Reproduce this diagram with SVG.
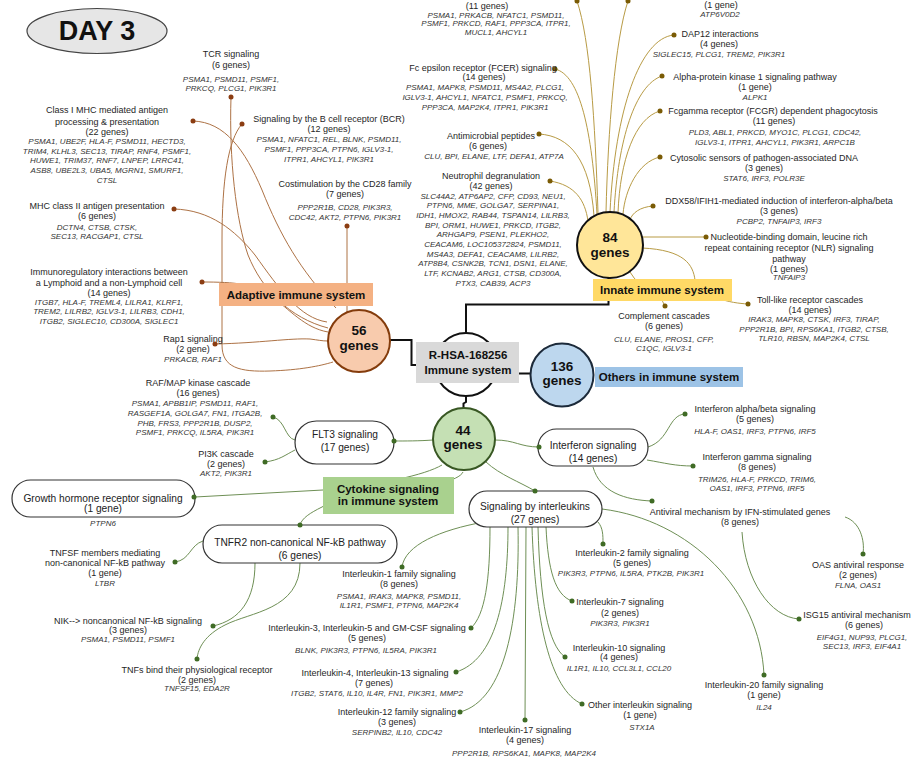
<svg xmlns="http://www.w3.org/2000/svg" width="914" height="760" viewBox="0 0 914 760">
<style>
text{font-family:"Liberation Sans",Arial,sans-serif;text-anchor:middle}
.t{font-size:9px;fill:#262626}
.g{font-size:8px;font-style:italic;fill:#333}
.p{font-size:10.2px;fill:#222}
.bl{font-size:11.5px;font-weight:bold;fill:#111}
.num{font-size:13.5px;font-weight:bold;fill:#111}
.ca{fill:none;stroke:#ad7245;stroke-width:1}
.ci{fill:none;stroke:#b89b45;stroke-width:1}
.cc{fill:none;stroke:#6e8f55;stroke-width:1}
.k{fill:none;stroke:#111;stroke-width:2}
.da{fill:#8b3d12}.di{fill:#7a5b05}.dc{fill:#3f6b25}
.pill{fill:#fff;stroke:#333;stroke-width:1.2}
</style>
<rect width="914" height="760" fill="#fff"/>
<g id="title">
<ellipse cx="97" cy="31" rx="70" ry="22.5" fill="#e6e6e6" stroke="#444" stroke-width="1.2"/>
<text x="97" y="40" style="font-size:27px;font-weight:bold;fill:#111">DAY 3</text>
</g>
<g id="connectors">
<path class="k" d="M390,340 H411.5 V365 H416"/>
<path class="k" d="M519,373.5 H531"/>
<path class="k" d="M466,333 V304.5 H608.5 V277"/>
<path class="k" d="M466,396 V402 L463.5,403.5 V409"/>
<path class="ca" d="M231,97 C229,160 236,220 248,255 C262,290 290,318 328,328"/>
<path class="ca" d="M242,124 C228,140 222,180 222,240 L222,345 C222,368 240,372 270,371 C300,370 320,366 333,362"/>
<path class="ca" d="M193,121 C225,122 245,150 262,190 C280,235 300,270 336,308"/>
<path class="ca" d="M174,209 C210,210 235,230 255,255 C280,290 300,318 327,322"/>
<path class="ca" d="M202,282 C235,282 255,284 270,295 C290,310 305,328 328,332"/>
<path class="ca" d="M215,344 C260,343 290,338 310,339 C318,340 322,341 328,341"/>
<path class="ca" d="M347,226 L347,312"/>
<path class="ci" d="M577,1 C590,40 595,120 598,213"/>
<path class="ci" d="M555,69 C580,75 592,130 597,214"/>
<path class="ci" d="M539,134 C570,136 590,160 594,216"/>
<path class="ci" d="M550,181 C575,185 585,200 588,221"/>
<path class="ci" d="M628,1 C615,40 608,130 606,212"/>
<path class="ci" d="M674,35 C640,38 615,110 610,212"/>
<path class="ci" d="M662,76 C635,85 618,140 614,212"/>
<path class="ci" d="M660,111 C635,118 620,160 618,213"/>
<path class="ci" d="M660,157 C638,162 625,190 623,214"/>
<path class="ci" d="M653,206 C640,207 632,213 630,220"/>
<path class="ci" d="M642,237 L706,237"/>
<path class="ci" d="M642,248 C685,250 693,265 695,280 C705,298 730,303 748,304"/>
<path class="ci" d="M630,272 C640,290 660,292 665,306"/>
<path class="cc" d="M433,440 C420,441 405,441 394,441"/>
<path class="cc" d="M295,440 C285,438 285,420 273,417"/>
<path class="cc" d="M295,450 C285,455 280,460 265,462"/>
<path class="cc" d="M495,440 C515,440 520,447 539,447"/>
<path class="cc" d="M648,447 C670,440 668,415 685,414"/>
<path class="cc" d="M647,460 C665,463 675,466 693,466"/>
<path class="cc" d="M593,467 C600,492 625,500 652,501"/>
<path class="cc" d="M486,462 C500,475 520,482 535,491"/>
<path class="cc" d="M442,465 C425,475 380,485 323,490 L195,497"/>
<path class="cc" d="M463,472 C455,490 340,495 322,507 C310,513 302,518 300,525"/>
<path class="cc" d="M203,541 C190,545 190,560 175,562"/>
<path class="cc" d="M255,563 C255,600 240,620 213,626"/>
<path class="cc" d="M300,563 C300,610 250,612 225,625 C205,635 198,648 197,659"/>
<path class="cc" d="M484,522 C440,530 405,545 402,567"/>
<path class="cc" d="M490,527 C490,580 485,615 471,628"/>
<path class="cc" d="M508,527 C508,600 495,660 456,672"/>
<path class="cc" d="M518,527 C520,620 505,700 460,712"/>
<path class="cc" d="M526,527 L525,720"/>
<path class="cc" d="M532,527 C535,620 550,690 582,704"/>
<path class="cc" d="M538,527 C540,600 548,645 565,657"/>
<path class="cc" d="M546,527 C548,570 555,595 572,601"/>
<path class="cc" d="M598,522 C603,528 603,535 603,544"/>
<path class="cc" d="M602,509 C690,520 760,590 764,675"/>
<path class="cc" d="M845,517 C860,522 865,540 863,554"/>
<path class="cc" d="M742,532 C745,580 770,617 799,619"/>
</g>
<g id="hub">
<circle cx="466" cy="364.5" r="31.5" fill="#fff" stroke="#111" stroke-width="2"/>
<rect x="416" y="342" width="103" height="41" fill="#d9d9d9"/>
<text class="bl" x="468" y="359">R-HSA-168256</text>
<text class="bl" x="468" y="373.5">Immune system</text>
</g>
<g id="adaptive-hub">
<circle cx="359" cy="341" r="31" fill="#f8cbad" stroke="#843c0c" stroke-width="2"/>
<text class="num" x="359" y="335">56</text>
<text class="num" x="359" y="350">genes</text>
</g>
<g id="adaptive-label">
<rect x="219" y="283" width="154" height="23" fill="#f4b183"/>
<text class="bl" x="296" y="298.5">Adaptive immune system</text>
</g>
<g id="innate-hub">
<circle cx="610" cy="245" r="33" fill="#ffe699" stroke="#111" stroke-width="2"/>
<text class="num" x="610" y="242">84</text>
<text class="num" x="610" y="257">genes</text>
</g>
<g id="innate-label">
<rect x="593" y="279" width="139" height="22" fill="#ffd966"/>
<text class="bl" x="662" y="293.5">Innate immune system</text>
</g>
<g id="others-hub">
<circle cx="562" cy="375" r="31.5" fill="#bdd7ee" stroke="#1c2a3a" stroke-width="2"/>
<text class="num" x="562" y="371">136</text>
<text class="num" x="562" y="385">genes</text>
</g>
<g id="others-label">
<rect x="595" y="367" width="148" height="20" fill="#9dc3e6"/>
<text class="bl" x="669" y="381">Others in immune system</text>
</g>
<g id="cytokine-hub">
<circle cx="464" cy="439" r="31" fill="#c5e0b4" stroke="#385723" stroke-width="2"/>
<text class="num" x="463" y="435">44</text>
<text class="num" x="463" y="449">genes</text>
</g>
<g id="cytokine-label">
<rect x="323" y="477" width="131" height="37" fill="#a9d18e"/>
<text class="bl" x="388" y="493">Cytokine signaling</text>
<text class="bl" x="388" y="505">in immune system</text>
</g>
<g id="tcr"><circle class="da" cx="231" cy="97" r="2.5"/>
<text class="t" x="231" y="57">TCR signaling</text><text class="t" x="231" y="68">(6 genes)</text>
<text class="g" x="231" y="81.5">PSMA1, PSMD11, PSMF1,</text><text class="g" x="231" y="91">PRKCQ, PLCG1, PIK3R1</text></g>
<g id="mhc1"><circle class="da" cx="193" cy="121" r="2.5"/>
<text class="t" x="107" y="113">Class I MHC mediated antigen</text><text class="t" x="107" y="124.5">processing &amp; presentation</text><text class="t" x="107" y="135">(22 genes)</text>
<text class="g" x="107" y="144">PSMA1, UBE2F, HLA-F, PSMD11, HECTD3,</text><text class="g" x="107" y="153.7">TRIM4, KLHL3, SEC13, TIRAP, RNF4, PSMF1,</text><text class="g" x="107" y="163.4">HUWE1, TRIM37, RNF7, LNPEP, LRRC41,</text><text class="g" x="107" y="173.1">ASB8, UBE2L3, UBA5, MGRN1, SMURF1,</text><text class="g" x="107" y="182.8">CTSL</text></g>
<g id="mhc2"><circle class="da" cx="174" cy="209" r="2.5"/>
<text class="t" x="97" y="209">MHC class II antigen presentation</text><text class="t" x="97" y="219">(6 genes)</text>
<text class="g" x="97" y="229.5">DCTN4, CTSB, CTSK,</text><text class="g" x="97" y="239">SEC13, RACGAP1, CTSL</text></g>
<g id="immunoreg"><circle class="da" cx="202" cy="282" r="2.5"/>
<text class="t" x="109" y="275">Immunoregulatory interactions between</text><text class="t" x="109" y="285.5">a Lymphoid and a non-Lymphoid cell</text><text class="t" x="109" y="295.5">(14 genes)</text>
<text class="g" x="109" y="304.5">ITGB7, HLA-F, TREML4, LILRA1, KLRF1,</text><text class="g" x="109" y="314.3">TREM2, LILRB2, IGLV3-1, LILRB3, CDH1,</text><text class="g" x="109" y="324">ITGB2, SIGLEC10, CD300A, SIGLEC1</text></g>
<g id="rap1"><text class="t" x="193" y="342">Rap1 signaling</text><text class="t" x="193" y="352">(2 gene)</text>
<text class="g" x="193" y="362">PRKACB, RAF1</text><circle class="da" cx="215" cy="344" r="2.5"/></g>
<g id="bcr"><circle class="da" cx="242" cy="124" r="2.5"/>
<text class="t" x="329" y="122">Signaling by the B cell receptor (BCR)</text><text class="t" x="329" y="132">(12 genes)</text>
<text class="g" x="329" y="142">PSMA1, NFATC1, REL, BLNK, PSMD11,</text><text class="g" x="329" y="151.7">PSMF1, PPP3CA, PTPN6, IGLV3-1,</text><text class="g" x="329" y="161.5">ITPR1, AHCYL1, PIK3R1</text></g>
<g id="cd28"><circle class="da" cx="347" cy="226" r="2.5"/>
<text class="t" x="345" y="187">Costimulation by the CD28 family</text><text class="t" x="345" y="197.3">(7 genes)</text>
<text class="g" x="345" y="210">PPP2R1B, CD28, PIK3R3,</text><text class="g" x="345" y="219.5">CDC42, AKT2, PTPN6, PIK3R1</text></g>
<g id="top11"><circle class="di" cx="577" cy="1" r="2.5"/>
<text class="t" x="487" y="8.5">(11 genes)</text>
<text class="g" x="496" y="17.5">PSMA1, PRKACB, NFATC1, PSMD11,</text><text class="g" x="496" y="26.3">PSMF1, PRKCD, RAF1, PPP3CA, ITPR1,</text><text class="g" x="496" y="35">MUCL1, AHCYL1</text></g>
<g id="fcer"><circle class="di" cx="555" cy="69" r="2.5"/>
<text class="t" x="483" y="70.7">Fc epsilon receptor (FCER) signaling</text><text class="t" x="484" y="80.3">(14 genes)</text>
<text class="g" x="485" y="90">PSMA1, MAPK8, PSMD11, MS4A2, PLCG1,</text><text class="g" x="485" y="99.8">IGLV3-1, AHCYL1, NFATC1, PSMF1, PRKCQ,</text><text class="g" x="485" y="109.6">PPP3CA, MAP2K4, ITPR1, PIK3R1</text></g>
<g id="antimicrobial"><circle class="di" cx="539" cy="134" r="2.5"/>
<text class="t" x="491" y="138.7">Antimicrobial peptides</text><text class="t" x="488" y="148.7">(6 genes)</text>
<text class="g" x="494" y="158.5">CLU, BPI, ELANE, LTF, DEFA1, ATP7A</text></g>
<g id="neutrophil"><circle class="di" cx="550" cy="181" r="2.5"/>
<text class="t" x="491" y="178.7">Neutrophil degranulation</text><text class="t" x="491" y="188.7">(42 genes)</text>
<text class="g" x="493" y="198.5">SLC44A2, ATP6AP2, CFP, CD93, NEU1,</text>
<text class="g" x="493" y="208.2">PTPN6, MME, GOLGA7, SERPINA1,</text>
<text class="g" x="493" y="217.9">IDH1, HMOX2, RAB44, TSPAN14, LILRB3,</text>
<text class="g" x="493" y="227.5">BPI, ORM1, HUWE1, PRKCD, ITGB2,</text>
<text class="g" x="493" y="237.2">ARHGAP9, PSEN1, PLEKHO2,</text>
<text class="g" x="493" y="246.9">CEACAM6, LOC105372824, PSMD11,</text>
<text class="g" x="493" y="256.6">MS4A3, DEFA1, CEACAM8, LILRB2,</text>
<text class="g" x="493" y="266.3">ATP8B4, CSNK2B, TCN1, DSN1, ELANE,</text>
<text class="g" x="493" y="275.9">LTF, KCNAB2, ARG1, CTSB, CD300A,</text>
<text class="g" x="493" y="285.6">PTX3, CAB39, ACP3</text></g>
<g id="top1"><circle class="di" cx="628" cy="1" r="2.5"/>
<text class="t" x="721" y="8">(1 gene)</text><text class="g" x="720" y="16.5">ATP6V0D2</text></g>
<g id="dap12"><circle class="di" cx="674" cy="35" r="2.5"/>
<text class="t" x="720" y="37.3">DAP12 interactions</text><text class="t" x="719" y="47.3">(4 genes)</text>
<text class="g" x="719" y="57">SIGLEC15, PLCG1, TREM2, PIK3R1</text></g>
<g id="alpk"><circle class="di" cx="662" cy="76" r="2.5"/>
<text class="t" x="755" y="80.3">Alpha-protein kinase 1 signaling pathway</text><text class="t" x="755" y="90.3">(1 gene)</text>
<text class="g" x="755" y="100">ALPK1</text></g>
<g id="fcgr"><circle class="di" cx="660" cy="111" r="2.5"/>
<text class="t" x="773" y="114">Fcgamma receptor (FCGR) dependent phagocytosis</text><text class="t" x="774" y="123.7">(11 genes)</text>
<text class="g" x="775" y="134.8">PLD3, ABL1, PRKCD, MYO1C, PLCG1, CDC42,</text><text class="g" x="775" y="144.5">IGLV3-1, ITPR1, AHCYL1, PIK3R1, ARPC1B</text></g>
<g id="cytosolic"><circle class="di" cx="660" cy="157" r="2.5"/>
<text class="t" x="764" y="161.3">Cytosolic sensors of pathogen-associated DNA</text><text class="t" x="764" y="171.3">(3 genes)</text>
<text class="g" x="764" y="181">STAT6, IRF3, POLR3E</text></g>
<g id="ddx58"><circle class="di" cx="653" cy="206" r="2.5"/>
<text class="t" x="779" y="204">DDX58/IFIH1-mediated induction of interferon-alpha/beta</text><text class="t" x="779" y="214">(3 genes)</text>
<text class="g" x="779" y="223.8">PCBP2, TNFAIP3, IRF3</text></g>
<g id="nlr"><circle class="di" cx="706" cy="237" r="2.5"/>
<text class="t" x="789" y="240.3">Nucleotide-binding domain, leucine rich</text><text class="t" x="789" y="251.3">repeat containing receptor (NLR) signaling</text><text class="t" x="789" y="262.3">pathway</text><text class="t" x="789" y="272">(1 genes)</text>
<text class="g" x="789" y="279.5">TNFAIP3</text></g>
<g id="tlr"><circle class="di" cx="748" cy="304" r="2.5"/>
<text class="t" x="810" y="303">Toll-like receptor cascades</text><text class="t" x="810" y="313">(14 genes)</text>
<text class="g" x="814" y="321.8">IRAK3, MAPK8, CTSK, IRF3, TIRAP,</text><text class="g" x="814" y="331.6">PPP2R1B, BPI, RPS6KA1, ITGB2, CTSB,</text><text class="g" x="814" y="341">TLR10, RBSN, MAP2K4, CTSL</text></g>
<g id="complement"><circle class="di" cx="665" cy="306" r="2.5"/>
<text class="t" x="664" y="319">Complement cascades</text><text class="t" x="664" y="329">(6 genes)</text>
<text class="g" x="664" y="341.8">CLU, ELANE, PROS1, CFP,</text><text class="g" x="664" y="351">C1QC, IGLV3-1</text></g>
<g id="flt3"><rect class="pill" x="295" y="421" width="99" height="43" rx="21.5"/>
<text class="p" x="345" y="438">FLT3 signaling</text><text class="p" x="345" y="451">(17 genes)</text><circle class="dc" cx="394" cy="441" r="2.5"/></g>
<g id="rafmap"><circle class="dc" cx="273" cy="417" r="2.5"/>
<text class="t" x="198" y="385.7">RAF/MAP kinase cascade</text><text class="t" x="198" y="395.7">(16 genes)</text>
<text class="g" x="195" y="406.1">PSMA1, APBB1IP, PSMD11, RAF1,</text><text class="g" x="195" y="415.9">RASGEF1A, GOLGA7, FN1, ITGA2B,</text><text class="g" x="195" y="425.5">PHB, FRS3, PPP2R1B, DUSP2,</text><text class="g" x="195" y="435.1">PSMF1, PRKCQ, IL5RA, PIK3R1</text></g>
<g id="pi3k"><circle class="dc" cx="265" cy="462" r="2.5"/>
<text class="t" x="226" y="457">PI3K cascade</text><text class="t" x="226" y="467">(2 genes)</text>
<text class="g" x="226" y="476.1">AKT2, PIK3R1</text></g>
<g id="interferon"><rect class="pill" x="538" y="429" width="110" height="37" rx="18.5"/>
<text class="p" x="593" y="448.6">Interferon signaling</text><text class="p" x="593" y="462">(14 genes)</text><circle class="dc" cx="539" cy="447" r="2.5"/></g>
<g id="ifnab"><circle class="dc" cx="685" cy="414" r="2.5"/>
<text class="t" x="755" y="412">Interferon alpha/beta signaling</text><text class="t" x="755" y="422">(5 genes)</text>
<text class="g" x="755" y="433.8">HLA-F, OAS1, IRF3, PTPN6, IRF5</text></g>
<g id="ifng"><circle class="dc" cx="693" cy="466" r="2.5"/>
<text class="t" x="757" y="460.3">Interferon gamma signaling</text><text class="t" x="757" y="470.3">(8 genes)</text>
<text class="g" x="757" y="481.8">TRIM26, HLA-F, PRKCD, TRIM6,</text><text class="g" x="757" y="491.1">OAS1, IRF3, PTPN6, IRF5</text></g>
<g id="antiviral"><circle class="dc" cx="652" cy="501" r="2.5"/>
<text class="t" x="740" y="515.3">Antiviral mechanism by IFN-stimulated genes</text><text class="t" x="740" y="525.3">(8 genes)</text></g>
<g id="oas"><circle class="dc" cx="863" cy="554" r="2.5"/>
<text class="t" x="858" y="568">OAS antiviral response</text><text class="t" x="858" y="578">(2 genes)</text>
<text class="g" x="858" y="587.8">FLNA, OAS1</text></g>
<g id="isg15"><circle class="dc" cx="799" cy="619" r="2.5"/>
<text class="t" x="857" y="618">ISG15 antiviral mechanism</text><text class="t" x="864" y="628">(6 genes)</text>
<text class="g" x="862" y="639.5">EIF4G1, NUP93, PLCG1,</text><text class="g" x="862" y="649.3">SEC13, IRF3, EIF4A1</text></g>
<g id="growth"><rect class="pill" x="12" y="480" width="183" height="37" rx="18.5"/>
<text class="p" x="103" y="502">Growth hormone receptor signaling</text><text class="p" x="103" y="512">(1 gene)</text>
<text class="g" x="103" y="526">PTPN6</text><circle class="dc" cx="194" cy="497" r="2.5"/></g>
<g id="tnfr2"><rect class="pill" x="203" y="525" width="194" height="38" rx="19"/>
<text class="p" x="300" y="546">TNFR2 non-canonical NF-kB pathway</text><text class="p" x="300" y="558.5">(6 genes)</text><circle class="dc" cx="300" cy="525" r="2.5"/></g>
<g id="tnfsf"><circle class="dc" cx="175" cy="562" r="2.5"/>
<text class="t" x="105" y="556.3">TNFSF members mediating</text><text class="t" x="105" y="566.3">non-canonical NF-kB pathway</text><text class="t" x="105" y="576.3">(1 gene)</text>
<text class="g" x="105" y="586.1">LTBR</text></g>
<g id="nik"><circle class="dc" cx="213" cy="626" r="2.5"/>
<text class="t" x="128" y="623.7">NIK--&gt; noncanonical NF-kB signaling</text><text class="t" x="128" y="633">(3 genes)</text>
<text class="g" x="128" y="642.1">PSMA1, PSMD11, PSMF1</text></g>
<g id="tnfs"><circle class="dc" cx="197" cy="659" r="2.5"/>
<text class="t" x="197" y="672.7">TNFs bind their physiological receptor</text><text class="t" x="197" y="683">(2 genes)</text>
<text class="g" x="197" y="690.5">TNFSF15, EDA2R</text></g>
<g id="interleukins"><rect class="pill" x="469" y="491" width="133" height="36" rx="18"/>
<text class="p" x="535" y="510.3">Signaling by interleukins</text><text class="p" x="535" y="523">(27 genes)</text><circle class="dc" cx="535" cy="491" r="2.5"/></g>
<g id="il1"><circle class="dc" cx="402" cy="567" r="2.5"/>
<text class="t" x="399" y="577">Interleukin-1 family signaling</text><text class="t" x="399" y="587.3">(8 genes)</text>
<text class="g" x="399" y="598.5">PSMA1, IRAK3, MAPK8, PSMD11,</text><text class="g" x="399" y="608.1">IL1R1, PSMF1, PTPN6, MAP2K4</text></g>
<g id="il3"><circle class="dc" cx="471" cy="628" r="2.5"/>
<text class="t" x="367" y="631.3">Interleukin-3, Interleukin-5 and GM-CSF signaling</text><text class="t" x="367" y="641.3">(5 genes)</text>
<text class="g" x="366" y="652.8">BLNK, PIK3R3, PTPN6, IL5RA, PIK3R1</text></g>
<g id="il4"><circle class="dc" cx="456" cy="672" r="2.5"/>
<text class="t" x="375" y="675.7">Interleukin-4, Interleukin-13 signaling</text><text class="t" x="374" y="685.7">(7 genes)</text>
<text class="g" x="377" y="695.5">ITGB2, STAT6, IL10, IL4R, FN1, PIK3R1, MMP2</text></g>
<g id="il12"><circle class="dc" cx="460" cy="712" r="2.5"/>
<text class="t" x="397" y="715.3">Interleukin-12 family signaling</text><text class="t" x="397" y="725.3">(3 genes)</text>
<text class="g" x="397" y="734.5">SERPINB2, IL10, CDC42</text></g>
<g id="il17"><circle class="dc" cx="525" cy="720" r="2.5"/>
<text class="t" x="525" y="733">Interleukin-17 signaling</text><text class="t" x="525" y="743">(4 genes)</text>
<text class="g" x="524" y="755.5">PPP2R1B, RPS6KA1, MAPK8, MAP2K4</text></g>
<g id="ilother"><circle class="dc" cx="582" cy="704" r="2.5"/>
<text class="t" x="640" y="708">Other interleukin signaling</text><text class="t" x="640" y="718">(1 gene)</text>
<text class="g" x="642" y="730">STX1A</text></g>
<g id="il10"><circle class="dc" cx="565" cy="657" r="2.5"/>
<text class="t" x="619" y="650.7">Interleukin-10 signaling</text><text class="t" x="619" y="660.3">(4 genes)</text>
<text class="g" x="619" y="670.5">IL1R1, IL10, CCL3L1, CCL20</text></g>
<g id="il7"><circle class="dc" cx="572" cy="601" r="2.5"/>
<text class="t" x="620" y="605.3">Interleukin-7 signaling</text><text class="t" x="620" y="616.3">(2 genes)</text>
<text class="g" x="620" y="626.1">PIK3R3, PIK3R1</text></g>
<g id="il2"><circle class="dc" cx="603" cy="544" r="2.5"/>
<text class="t" x="632" y="556.3">Interleukin-2 family signaling</text><text class="t" x="632" y="565.7">(5 genes)</text>
<text class="g" x="631" y="575.5">PIK3R3, PTPN6, IL5RA, PTK2B, PIK3R1</text></g>
<g id="il20"><circle class="dc" cx="764" cy="675" r="2.5"/>
<text class="t" x="764" y="688">Interleukin-20 family signaling</text><text class="t" x="764" y="698">(1 gene)</text>
<text class="g" x="764" y="709.5">IL24</text></g>
</svg>
